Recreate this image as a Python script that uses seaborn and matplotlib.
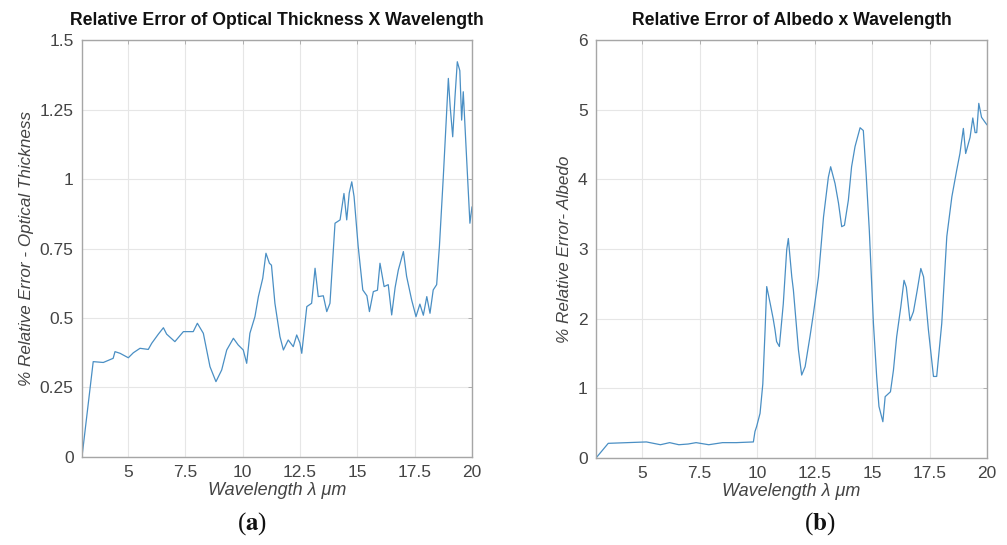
import numpy as np
import pandas as pd
import matplotlib
matplotlib.use('Agg')
import matplotlib.pyplot as plt
import seaborn as sns

# 数据
wl_tau = [3.0, 3.49, 3.93, 4.36, 4.44, 4.66, 5.02, 5.24, 5.53, 5.89, 6.04, 6.33, 6.55, 6.69,
          7.05, 7.42, 7.85, 8.03, 8.29, 8.58, 8.84, 9.09, 9.31, 9.60, 9.81, 10.03, 10.18,
          10.32, 10.54, 10.69, 10.88, 11.02, 11.17, 11.26, 11.41, 11.63, 11.78, 11.99, 12.21,
          12.36, 12.50, 12.58, 12.80, 13.01, 13.16, 13.30, 13.52, 13.67, 13.81, 14.03, 14.25,
          14.42, 14.54, 14.65, 14.76, 14.86, 15.04, 15.24, 15.42, 15.53, 15.70, 15.88, 15.99,
          16.17, 16.35, 16.50, 16.65, 16.79, 17.01, 17.15, 17.37, 17.56, 17.73, 17.88, 18.03,
          18.17, 18.31, 18.46, 18.58, 18.75, 18.87, 18.97, 19.05, 19.16, 19.26, 19.36, 19.47,
          19.55, 19.62, 19.77, 19.91, 20.0]
err_tau = [0.0, 0.343, 0.34, 0.355, 0.379, 0.373, 0.357, 0.375, 0.391, 0.387, 0.409, 0.442,
           0.465, 0.442, 0.415, 0.451, 0.451, 0.481, 0.445, 0.325, 0.271, 0.313, 0.385, 0.427,
           0.403, 0.385, 0.337, 0.445, 0.505, 0.577, 0.643, 0.733, 0.697, 0.69, 0.553, 0.433,
           0.385, 0.421, 0.397, 0.439, 0.41, 0.373, 0.541, 0.553, 0.679, 0.577, 0.58, 0.523,
           0.553, 0.841, 0.853, 0.948, 0.853, 0.95, 0.99, 0.937, 0.757, 0.601, 0.58, 0.523,
           0.595, 0.60, 0.697, 0.613, 0.62, 0.511, 0.61, 0.673, 0.739, 0.65, 0.565, 0.505, 0.55,
           0.51, 0.577, 0.517, 0.601, 0.62, 0.757, 1.008, 1.2, 1.362, 1.26, 1.152, 1.296, 1.422,
           1.39, 1.212, 1.314, 1.068, 0.841, 0.9]

wl_alb = [3.0, 3.53, 5.19, 5.8, 6.2, 6.6, 7.0, 7.35, 7.9, 8.5, 9.1, 9.84, 9.91, 9.98, 10.13,
          10.25, 10.35, 10.42, 10.57, 10.70, 10.78, 10.85, 10.97, 11.14, 11.29, 11.36, 11.51,
          11.58, 11.80, 11.94, 12.09, 12.30, 12.45, 12.67, 12.89, 13.10, 13.20, 13.39, 13.54,
          13.68, 13.80, 13.97, 14.11, 14.26, 14.48, 14.62, 14.74, 14.88, 15.06, 15.20, 15.30,
          15.47, 15.57, 15.8, 15.93, 16.07, 16.25, 16.39, 16.49, 16.65, 16.8, 16.96, 17.12,
          17.24, 17.45, 17.67, 17.81, 18.03, 18.25, 18.47, 18.68, 18.82, 18.97, 19.07, 19.26,
          19.38, 19.48, 19.55, 19.64, 19.76, 19.91, 20.0]
err_alb = [0.0, 0.21, 0.23, 0.19, 0.22, 0.19, 0.2, 0.22, 0.19, 0.22, 0.22, 0.23, 0.38, 0.45,
           0.64, 1.06, 1.84, 2.46, 2.22, 2.0, 1.84, 1.67, 1.6, 2.21, 2.99, 3.15, 2.6, 2.41,
           1.55, 1.19, 1.31, 1.74, 2.07, 2.6, 3.46, 4.03, 4.18, 3.94, 3.66, 3.32, 3.34, 3.7,
           4.18, 4.47, 4.74, 4.7, 4.09, 3.27, 1.93, 1.17, 0.74, 0.52, 0.88, 0.95, 1.26, 1.74,
           2.17, 2.55, 2.45, 1.97, 2.1, 2.4, 2.72, 2.6, 1.84, 1.17, 1.17, 1.93, 3.18, 3.75,
           4.13, 4.37, 4.73, 4.37, 4.6, 4.88, 4.67, 4.67, 5.09, 4.89, 4.82, 4.78]

xticks = [5, 7.5, 10, 12.5, 15, 17.5, 20]
yticks_tau = [0, 0.25, 0.5, 0.75, 1, 1.25, 1.5]
ytick_labels_tau = ['0', '0.25', '0.5', '0.75', '1', '1.25', '1.5']
yticks_alb = [0, 1, 2, 3, 4, 5, 6]

sns.set_style('whitegrid')
plt.rcParams['font.family'] = ['Liberation Sans', 'DejaVu Sans']
plt.rcParams['mathtext.fontset'] = 'stix'

line_color = '#4a8fc4'
grid_color = '#e6e6e6'
text_color = '#444444'

fig = plt.figure(figsize=(10.07, 5.45), dpi=100)
ax1 = fig.add_axes([0.0814, 0.1615, 0.3873, 0.765])
ax2 = fig.add_axes([0.5919, 0.1597, 0.3883, 0.7670])

panels = [
    (ax1, wl_tau, err_tau, yticks_tau, ytick_labels_tau, (0, 1.5),
     'Relative Error of Optical Thickness X Wavelength', '% Relative Error - Optical Thickness',
     'a', 252),
    (ax2, wl_alb, err_alb, yticks_alb, [str(v) for v in yticks_alb], (0, 6),
     'Relative Error of Albedo x Wavelength', '% Relative Error- Albedo', 'b', 820),
]

for ax, wl, err, yt, ytl, ylim, title, ylabel, tag, tag_x in panels:
    df = pd.DataFrame({'wl': wl, 'err': err})
    sns.lineplot(data=df, x='wl', y='err', ax=ax, color=line_color, linewidth=0.9,
                 estimator=None, sort=False)
    ax.set_xlim(3, 20)
    ax.set_ylim(*ylim)
    ax.set_xticks(xticks)
    ax.set_xticklabels([f'{v:g}' for v in xticks])
    ax.set_yticks(yt)
    ax.set_yticklabels(ytl)
    ax.grid(True, color=grid_color, linewidth=0.8)
    for sp in ax.spines.values():
        sp.set_color('#a6a6a6')
        sp.set_linewidth(1.0)
    ax.tick_params(direction='in', length=3, width=0.6, color='#a6a6a6',
                   labelsize=12.5, labelcolor=text_color, top=True, right=True, pad=6)
    ax.set_title(title, fontsize=12.7, fontweight='bold', color='#111111', pad=11)
    ax.set_xlabel('Wavelength λ μm', fontsize=13, style='italic', color=text_color, labelpad=1)
    ax.set_ylabel(ylabel, fontsize=12.3, style='italic', color=text_color, labelpad=4)
    fig.text(tag_x / 1007, 0.04, '($\\mathbf{' + tag + '}$)',
             ha='center', va='center', fontsize=18, family='Liberation Serif', color='#111111')

fig.savefig('out.png', dpi=100, facecolor='white')
